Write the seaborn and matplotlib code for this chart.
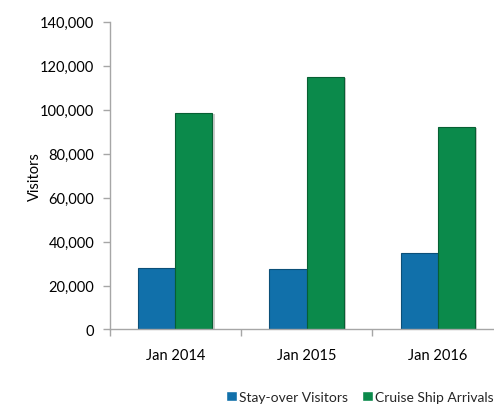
import matplotlib
matplotlib.use("Agg")
import matplotlib.pyplot as plt
import matplotlib.patheffects as pe
from matplotlib.ticker import FuncFormatter, FixedLocator
import seaborn as sns
import pandas as pd

months = ["Jan 2014", "Jan 2015", "Jan 2016"]
stay_over = [28000, 27600, 35000]
cruise = [98500, 114800, 92100]
series = ["Stay-over Visitors", "Cruise Ship Arrivals"]
colors = ["#1170AA", "#0B8A4B"]
edges = ["#0B4F78", "#075F33"]

df = pd.DataFrame({
    "Month": months * 2,
    "Visitors": stay_over + cruise,
    "Series": [series[0]] * 3 + [series[1]] * 3,
})

sns.set_theme(style="white")
plt.rcParams["font.family"] = ["Lato", "DejaVu Sans"]

fig = plt.figure(figsize=(4.94, 4.06), dpi=100)
ax = fig.add_axes([0.2221, 0.186, 0.797, 0.758])

sns.barplot(data=df, x="Month", y="Visitors", hue="Series", order=months,
            hue_order=series, palette=colors, width=0.566, gap=0,
            saturation=1, ax=ax, legend=True)

for i, cont in enumerate(ax.containers):
    for bar in cont:
        bar.set_edgecolor(edges[i])
        bar.set_linewidth(0.8)
        bar.set_path_effects([pe.SimplePatchShadow(offset=(1.5, -0.5), shadow_rgbFace="#999999", alpha=0.5),
                              pe.Normal()])

ax.set_ylim(0, 140000)
ax.set_xlim(-0.5, 2.5)
ax.yaxis.set_major_locator(FixedLocator(range(0, 140001, 20000)))
ax.yaxis.set_major_formatter(FuncFormatter(lambda v, p: f"{int(v):,}"))
ax.xaxis.set_major_locator(FixedLocator([0, 1, 2]))
ax.set_xticks([-0.5, 0.5, 1.5, 2.5], minor=True)

for s in ["top", "right"]:
    ax.spines[s].set_visible(False)
for s in ["left", "bottom"]:
    ax.spines[s].set_color("#A6A6A6")
    ax.spines[s].set_linewidth(1.0)

ax.tick_params(axis="y", which="major", left=True, length=5, width=1,
               color="#A6A6A6", labelsize=10.5, labelcolor="#000000", pad=6)
ax.tick_params(axis="x", which="major", bottom=False, labelsize=10.5,
               labelcolor="#000000", pad=7)
ax.tick_params(axis="x", which="minor", bottom=True, length=5, width=1,
               color="#A6A6A6")

ax.set_xlabel("")
ax.set_ylabel("Visitors", fontsize=10.5, color="#000000", labelpad=-1)

ax.legend(loc="upper center", bbox_to_anchor=(0.636, -0.2), ncol=2,
          frameon=False, fontsize=10, handlelength=0.75, handleheight=0.75,
          handletextpad=0.2, columnspacing=1.0, borderaxespad=0,
          borderpad=0)

fig.savefig("out.png", dpi=100, facecolor="white")
